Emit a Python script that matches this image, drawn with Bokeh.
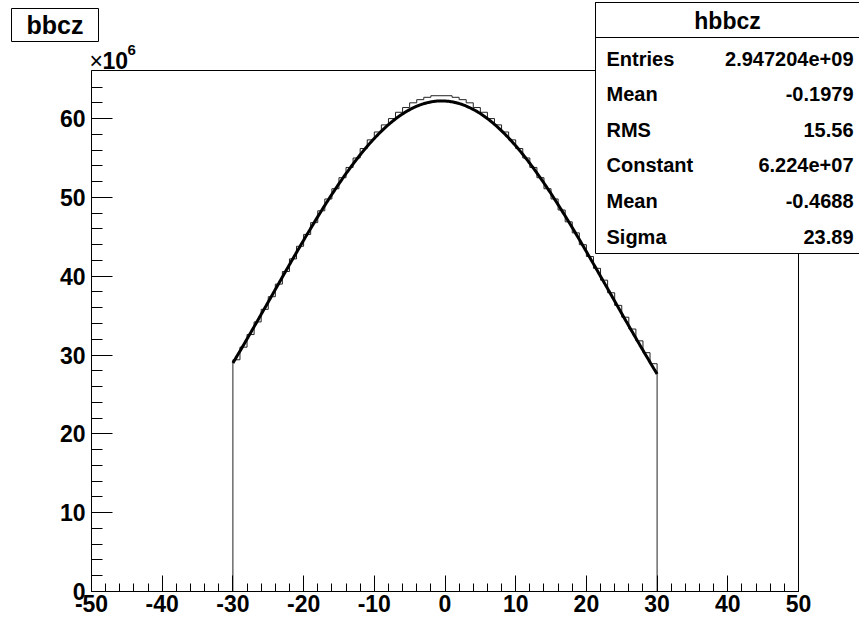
import numpy as np
from bokeh.plotting import figure
from bokeh.models import Range1d, FixedTicker, Label, BoxAnnotation
from bokeh.embed import file_html
from bokeh.resources import INLINE

# ---- data (counts in units of 1e6) ----
bin_low_edges = list(range(-30, 30))          # 60 bins of width 1
bin_width = 1.0
counts_1e6 = [
    29.4, 31.0, 32.6, 34.2, 35.8, 37.4, 39.0, 40.6, 42.2, 43.8,
    45.3, 46.8, 48.3, 49.8, 51.1, 52.5, 53.8, 55.0, 56.2, 57.3,
    58.3, 59.2, 60.0, 60.8, 61.4, 62.0, 62.4, 62.7, 62.9, 62.9,
    62.9, 62.7, 62.4, 62.0, 61.4, 60.8, 60.0, 59.2, 58.3, 57.3,
    56.2, 55.0, 53.8, 52.5, 51.1, 49.8, 48.4, 46.9, 45.5, 44.0,
    42.5, 41.0, 39.5, 37.9, 36.3, 34.8, 33.3, 31.8, 30.3, 28.9,
]
# gaussian fit shown in the stats box
fit_constant = 6.224e7
fit_mean = -0.4688
fit_sigma = 23.89
fit_range = (-30.0, 30.0)

hist_name = "hbbcz"
title_text = "bbcz"
stat_labels = ["Entries", "Mean", "RMS", "Constant", "Mean", "Sigma"]
stat_values = ["2.947204e+09", "-0.1979", "15.56", "6.224e+07", "-0.4688", "23.89"]

x_lo, x_hi = -50, 50
y_lo, y_hi = 0, 66.1
x_major = [-50, -40, -30, -20, -10, 0, 10, 20, 30, 40, 50]
x_minor = list(range(-50, 51, 2))
y_major = [0, 10, 20, 30, 40, 50, 60]
y_minor = list(range(0, 66, 2))

FONT = "Liberation Sans"
W, H = 859, 618
# pixel placement of the axes frame in the canvas
FL, FR, FT, FB = 91, 798, 70, 591

sx = (FR - FL) / (x_hi - x_lo)
sy = (FB - FT) / (y_hi - y_lo)
xr = Range1d(x_lo - FL / sx, x_hi + (W - FR) / sx)
yr = Range1d(y_lo - (H - FB) / sy, y_hi + FT / sy)

p = figure(width=W, height=H, x_range=xr, y_range=yr,
           output_backend="svg", toolbar_location=None)
p.min_border = 0
p.min_border_left = 0
p.min_border_right = 0
p.min_border_top = 0
p.min_border_bottom = 0
p.background_fill_color = "white"
p.border_fill_color = "white"
p.outline_line_color = None
p.xgrid.visible = False
p.ygrid.visible = False

for ax in (p.xaxis[0], p.yaxis[0]):
    ax.axis_line_color = "black"
    ax.major_tick_line_color = "black"
    ax.minor_tick_line_color = "black"
    ax.major_tick_out = 0
    ax.minor_tick_out = 0
    ax.major_label_text_font = FONT
    ax.major_label_text_font_style = "bold"
    ax.major_label_text_font_size = "23px"
    ax.major_label_text_color = "black"

p.xaxis.fixed_location = y_lo
p.xaxis.bounds = (x_lo, x_hi)
p.xaxis.ticker = FixedTicker(ticks=x_major, minor_ticks=x_minor)
p.xaxis.major_label_overrides = {t: str(t) for t in x_major}
p.xaxis.major_tick_in = 16
p.xaxis.minor_tick_in = 8
p.xaxis.major_label_standoff = 3

p.yaxis.fixed_location = x_lo
p.yaxis.bounds = (y_lo, y_hi)
p.yaxis.ticker = FixedTicker(ticks=y_major, minor_ticks=y_minor)
p.yaxis.major_label_overrides = {t: str(t) for t in y_major}
p.yaxis.major_tick_in = 21
p.yaxis.minor_tick_in = 11
p.yaxis.major_label_standoff = 6

# frame box
p.add_layout(BoxAnnotation(left=x_lo, right=x_hi, bottom=y_lo, top=y_hi,
                           fill_alpha=0.0, line_color="black", line_alpha=1.0,
                           line_width=1))

# histogram outline
step_x = [bin_low_edges[0]] + bin_low_edges + [bin_low_edges[-1] + bin_width]
step_y = [0.0] + counts_1e6 + [0.0]
p.step(step_x, step_y, mode="after", line_color="#222222", line_width=1)

# fit curve
fx = np.linspace(fit_range[0], fit_range[1], 400)
fy = fit_constant * np.exp(-0.5 * ((fx - fit_mean) / fit_sigma) ** 2) / 1e6
p.line(fx, fy, line_color="black", line_width=3)

# ---- annotations in canvas pixels (origin top-left) ----
def box(l, r, t, b, fill=True):
    return BoxAnnotation(left=l, right=r, top=t, bottom=b,
                         left_units="canvas", right_units="canvas",
                         top_units="canvas", bottom_units="canvas",
                         fill_color="white", fill_alpha=1.0 if fill else 0.0,
                         line_color="black", line_alpha=1.0, line_width=1,
                         level="overlay")

def label(x, y, text, size, align="left", style="bold"):
    return Label(x=x, y=y, x_units="canvas", y_units="canvas", text=text,
                 text_font=FONT, text_font_style=style, text_font_size=size,
                 text_color="black", text_align=align, text_baseline="middle",
                 level="overlay")

# title box
p.add_layout(box(11, 98, 8, 41))
p.add_layout(label(54.5, 24.5, title_text, "25px", align="center"))

# x10^6 multiplier
p.add_layout(label(89, 60, "\u00d7", "23px", style="normal"))
p.add_layout(label(102, 60, "10", "23px"))
p.add_layout(label(127, 49, "6", "15px"))

# stats box
box_left, box_right, box_top, box_sep, box_bottom = 595, 870, 2, 37, 253
p.add_layout(box(box_left, box_right, box_top, box_bottom))
p.add_layout(box(box_left, box_right, box_top, box_sep, fill=False))
p.add_layout(label(727, 20, hist_name, "23px", align="center"))
row_y = [58, 93, 129, 164, 200, 236]
for lab, val, ry in zip(stat_labels, stat_values, row_y):
    p.add_layout(label(606, ry, lab, "20px"))
    p.add_layout(label(853, ry, val, "20px", align="right"))

open("out.html", "w").write(file_html(p, INLINE))
